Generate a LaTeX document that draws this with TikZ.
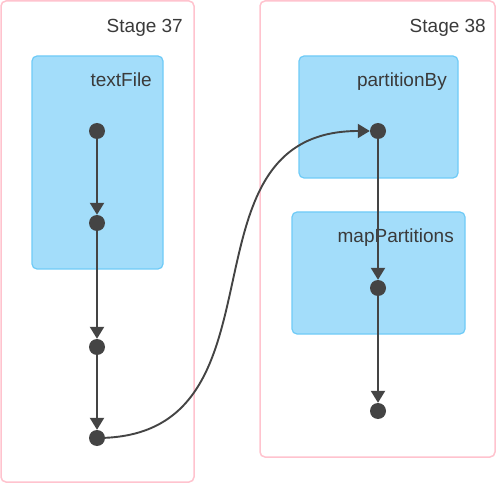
\documentclass[tikz,border=0pt]{standalone}
\usepackage{fontspec}
\setmainfont{Liberation Sans}
\usetikzlibrary{arrows.meta}
\definecolor{stageline}{HTML}{FFC3CE}
\definecolor{opfill}{HTML}{A3DDFA}
\definecolor{opline}{HTML}{6FCBF7}
\definecolor{ink}{HTML}{444444}
\definecolor{labelink}{HTML}{3A3A3A}
\tikzset{
  stagebox/.style={draw=stageline, line width=1.5pt, rounded corners=5pt, fill=white},
  opbox/.style={draw=opline, line width=1.2pt, rounded corners=5pt, fill=opfill},
  lbl/.style={anchor=base east, inner sep=0pt, text=labelink, font=\fontsize{19}{22}\selectfont},
  dot/.style={circle, fill=ink, draw=none, minimum size=16pt, inner sep=0pt},
  edge/.style={draw=ink, line width=2.2pt, -{Triangle[length=12pt,width=14pt]}},
}
\begin{document}
\begin{tikzpicture}[x=1pt,y=-1pt]
\useasboundingbox (0,0) rectangle (496,484);

% stages
\draw[stagebox] (1,1) rectangle (194,482);
\draw[stagebox] (260,1) rectangle (495,457);
\node[lbl] (s37) at (183,32.5) {Stage 37};
\node[lbl] (s38) at (486,32.5) {Stage 38};

% operation scopes
\draw[opbox] (32,56) rectangle (163,269);
\draw[opbox] (299,56) rectangle (458,178);
\draw[opbox] (292,212) rectangle (465,334);
\node[lbl] (tf) at (152,87) {textFile};
\node[lbl] (pb) at (447,87) {partitionBy};
\node[lbl] (mp) at (454,243) {mapPartitions};

% RDD points
\node[dot] (a1) at (97,131) {};
\node[dot] (a2) at (97,223) {};
\node[dot] (a3) at (97,347) {};
\node[dot] (a4) at (97,438) {};
\node[dot] (b1) at (378,131) {};
\node[dot] (b2) at (378,288) {};
\node[dot] (b3) at (378,411) {};

% dependencies
\draw[edge] (a1) -- (a2);
\draw[edge] (a2) -- (a3);
\draw[edge] (a3) -- (a4);
\draw[edge] (b1) -- (b2);
\draw[edge] (b2) -- (b3);
\draw[edge, line width=1.9pt] (a4.center) .. controls +(200,0) and +(-200,0) .. (b1.west);
\end{tikzpicture}
\end{document}
